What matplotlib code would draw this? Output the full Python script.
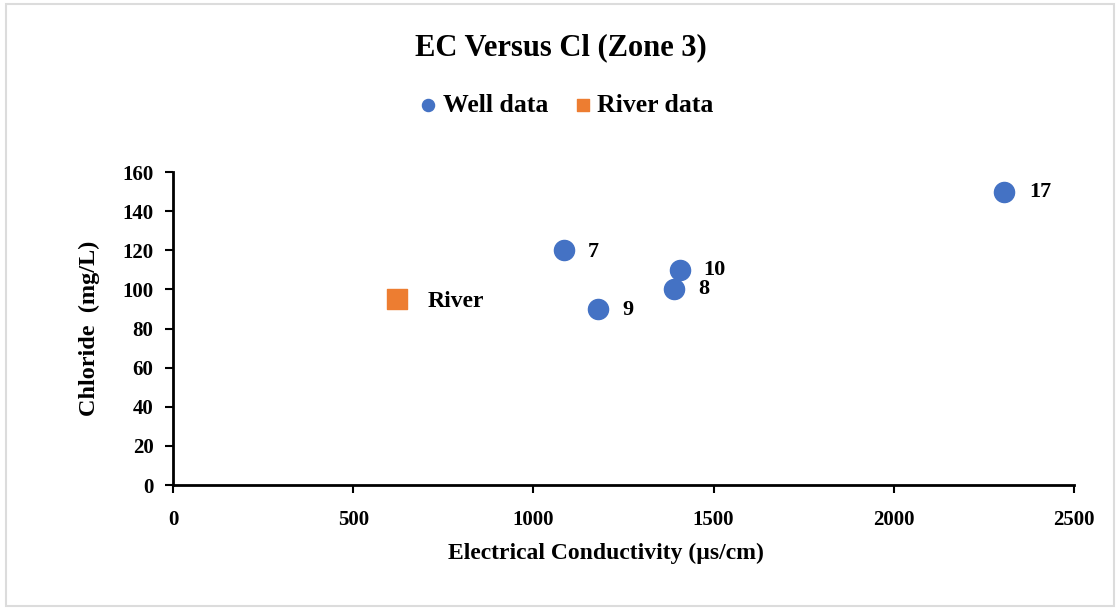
import matplotlib
matplotlib.use("Agg")
import matplotlib.pyplot as plt
from matplotlib.patches import Rectangle

plt.rcParams['font.family'] = ['Liberation Serif', 'DejaVu Serif']
plt.rcParams['font.weight'] = 'bold'

# Well samples
well_ec = [1085, 1180, 1391, 1407, 2307]
well_cl = [120, 90, 100, 110, 150]
well_labels = ['7', '9', '8', '10', '17']

# River sample
river_ec = [622]
river_cl = [95]
river_labels = ['River']

x_ticks = [0, 500, 1000, 1500, 2000, 2500]
y_ticks = [0, 20, 40, 60, 80, 100, 120, 140, 160]

blue = '#4472C4'
orange = '#ED7D31'

fig = plt.figure(figsize=(11.16, 6.08), dpi=100)
fig.patch.set_facecolor('white')
fig.patches.append(Rectangle((0.005, 0.004), 0.993, 0.99, transform=fig.transFigure,
                             fill=False, edgecolor='#dcdcdc', linewidth=1.5))

ax = fig.add_axes([0.155, 0.2023, 0.8074, 0.5148])
ax.scatter(well_ec, well_cl, s=210, color=blue, zorder=3, label='Well data')
ax.scatter(river_ec, river_cl, s=210, marker='s', color=orange, zorder=3, label='River data')

offsets = {'7': (17, -1), '9': (17, -1), '8': (17, 0), '10': (17, 0), '17': (18, 0)}
for x, y, t in zip(well_ec, well_cl, well_labels):
    ax.annotate(t, (x, y), xytext=offsets[t], textcoords='offset points',
                fontsize=16, fontweight='bold', va='center', ha='left')
for x, y, t in zip(river_ec, river_cl, river_labels):
    ax.annotate(t, (x, y), xytext=(22, -2), textcoords='offset points',
                fontsize=17, fontweight='bold', va='center', ha='left')

ax.set_xlim(0, 2500)
ax.set_ylim(0, 160)
ax.set_xticks(x_ticks)
ax.set_yticks(y_ticks)
ax.tick_params(axis='both', direction='out', width=1.5, length=6, labelsize=15)
for lab in ax.get_xticklabels() + ax.get_yticklabels():
    lab.set_fontweight('bold')
ax.tick_params(axis='x', pad=12)
ax.tick_params(axis='y', pad=8)
for side in ['top', 'right']:
    ax.spines[side].set_visible(False)
for side in ['left', 'bottom']:
    ax.spines[side].set_linewidth(2)

ax.set_xlabel('Electrical Conductivity (µs/cm)', fontsize=17, fontweight='bold')
ax.xaxis.set_label_coords(0.48, -0.185)
ax.set_ylabel('Chloride  (mg/L)', fontsize=17.5, fontweight='bold', labelpad=16)

fig.text(0.503, 0.922, 'EC Versus Cl (Zone 3)', ha='center', va='center',
         fontsize=22, fontweight='bold')

leg = fig.legend(loc='center', bbox_to_anchor=(0.500, 0.827), ncol=2, frameon=False,
                 handletextpad=-0.45, columnspacing=0.35, markerscale=0.6,
                 prop={'weight': 'bold', 'size': 18.5})

fig.savefig('out.png', dpi=100, facecolor='white')
